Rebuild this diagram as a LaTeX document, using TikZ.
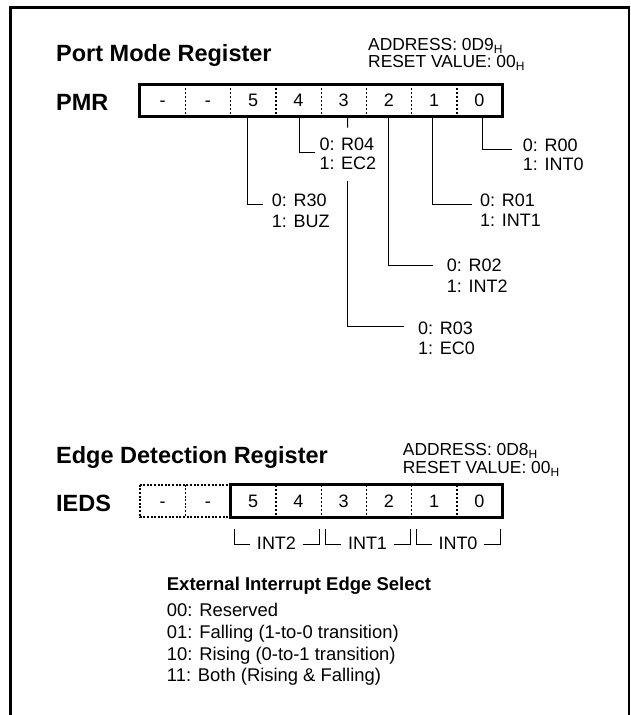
\documentclass[tikz,border=0pt]{standalone}
\usepackage{fontspec}
\setmainfont{Liberation Sans}
\newcommand\myreg{\fontsize{18}{20}\selectfont}
\newcommand\myaddr{\fontsize{17.4}{19}\selectfont}
\newcommand\mylist{\fontsize{18.4}{21}\selectfont}
\newcommand\mytitle{\fontsize{23.5}{26}\selectfont\bfseries}
\newcommand\myhead{\fontsize{18.5}{21}\selectfont\bfseries}
\newcommand\subH{\raisebox{-3pt}{\fontsize{12}{12}\selectfont H}}
\begin{document}
\begin{tikzpicture}[x=1pt,y=-1pt,
  frame/.style={line width=2.2pt},
  regbox/.style={line width=3pt},
  divider/.style={line width=1.4pt, dash pattern=on 2pt off 2pt},
  dotbox/.style={line width=1.6pt, dash pattern=on 2pt off 1.6pt},
  cell/.style={minimum width=45.25pt, minimum height=32pt, inner sep=0pt, font=\myreg, text height=12.9pt, text depth=0pt},
  conn/.style={line width=1pt},
  title/.style={font=\mytitle, anchor=base west, inner sep=0pt},
  lbl/.style={font=\myreg, anchor=base west, inner sep=0pt},
  addr/.style={font=\myaddr, anchor=base west, inner sep=0pt, text height=12.5pt},
  item/.style={font=\mylist, anchor=base west, inner sep=0pt},
  brk/.style={font=\myreg, anchor=base, inner xsep=6.5pt, inner ysep=0pt, text height=12.9pt, text depth=2.3pt},
  head/.style={font=\myhead, anchor=base west, inner sep=0pt}
]
\useasboundingbox (0,0) rectangle (631,715);
% frame
\draw[frame] (10.5,715) -- (10.5,7.5) -- (629,7.5) -- (629,715);

% ---------------- PMR ----------------
\node[title] (pmrtitle) at (56,61) {Port Mode Register};
\node[addr] (pmraddr) at (368,50) {ADDRESS: 0D9\subH};
\node[addr] (pmrreset) at (368,67.8) {RESET VALUE: 00\subH};
\node[title] (pmrname) at (56,110) {PMR};

\foreach \i/\t [count=\k from 0] in {7/-,6/-,5/5,4/4,3/3,2/2,1/1,0/0} {
  \node[cell] (p\i) at ({140+45.25*(\k+0.5)},100.25) {\t};
}
\foreach \i in {7,6,5,4,3,2,1} {
  \draw[divider] (p\i.north east) -- (p\i.south east);
}
\draw[regbox] (p7.north west) rectangle (p0.south east);

% labels
\node[lbl] (r30a) at (271.7,206.5) {0: R30};
\node[lbl] (r30b) at (271.7,227) {1: BUZ};
\node[lbl] (r04a) at (319.3,150.5) {0: R04};
\node[lbl] (r04b) at (319.3,169) {1: EC2};
\node[lbl] (r03a) at (418,334.5) {0: R03};
\node[lbl] (r03b) at (418,354.5) {1: EC0};
\node[lbl] (r02a) at (446.7,271.5) {0: R02};
\node[lbl] (r02b) at (446.7,292.5) {1: INT2};
\node[lbl] (r01a) at (480,206.5) {0: R01};
\node[lbl] (r01b) at (480,226.5) {1: INT1};
\node[lbl] (r00a) at (522.7,151.5) {0: R00};
\node[lbl] (r00b) at (522.7,170.5) {1: INT0};

% connector ends
\coordinate (k5) at (262.7,204);
\coordinate (k4) at (315,152);
\coordinate (k3a) at (347.5,127.7);
\coordinate (k3b) at (347.5,181);
\coordinate (k3) at (404,326);
\coordinate (k2) at (433,265);
\coordinate (k1) at (471.7,204);
\coordinate (k0) at (512,149);

\draw[conn] ([xshift=-5.4pt]p5.south) |- (k5);
\draw[conn] ([xshift=1.6pt]p4.south) |- (k4);
\draw[conn] ([xshift=3.9pt]p3.south) -- (k3a);
\draw[conn] (k3b) |- (k3);
\draw[conn] ([xshift=0.1pt]p2.south) |- (k2);
\draw[conn] ([xshift=-1.6pt]p1.south) |- (k1);
\draw[conn] ([xshift=3.1pt]p0.south) |- (k0);

% ---------------- IEDS ----------------
\node[title] (iedstitle) at (56,463.3) {Edge Detection Register};
\node[addr] (iedsaddr) at (402.7,455.8) {ADDRESS: 0D8\subH};
\node[addr] (iedsreset) at (402.7,473.6) {RESET VALUE: 00\subH};
\node[title] (iedsname) at (56,511.7) {IEDS};

\foreach \i/\t [count=\k from 0] in {7/-,6/-,5/5,4/4,3/3,2/2,1/1,0/0} {
  \node[cell] (q\i) at ({140+45.25*(\k+0.5)},501) {\t};
}
\draw[dotbox] (q7.north west) rectangle (q6.south east);
\draw[dotbox] (q7.north east) -- (q7.south east);
\foreach \i in {5,4,3,2,1} {
  \draw[divider] (q\i.north east) -- (q\i.south east);
}
\draw[regbox] (q5.north west) rectangle (q0.south east);

% brackets
\node[brk] (int2) at (276.5,549.3) {INT2};
\node[brk] (int1) at (367.5,549.3) {INT1};
\node[brk] (int0) at (458,549.3) {INT0};
\coordinate (b2l) at (234,529);
\coordinate (b2r) at (319,529);
\coordinate (b1l) at (325,529);
\coordinate (b1r) at (410,529);
\coordinate (b0l) at (416,529);
\coordinate (b0r) at (500,529);
\draw[conn] (b2l) |- (int2.west);
\draw[conn] (int2.east) -| (b2r);
\draw[conn] (b1l) |- (int1.west);
\draw[conn] (int1.east) -| (b1r);
\draw[conn] (b0l) |- (int0.west);
\draw[conn] (int0.east) -| (b0r);

% legend
\node[head] (leghead) at (166.7,590.7) {External Interrupt Edge Select};
\node[item] (leg0) at (166.7,616.7) {00: Reserved};
\node[item] (leg1) at (166.7,638.3) {01: Falling (1-to-0 transition)};
\node[item] (leg2) at (166.7,660) {10: Rising (0-to-1 transition)};
\node[item] (leg3) at (166.7,681.7) {11: Both (Rising \& Falling)};
\end{tikzpicture}
\end{document}
